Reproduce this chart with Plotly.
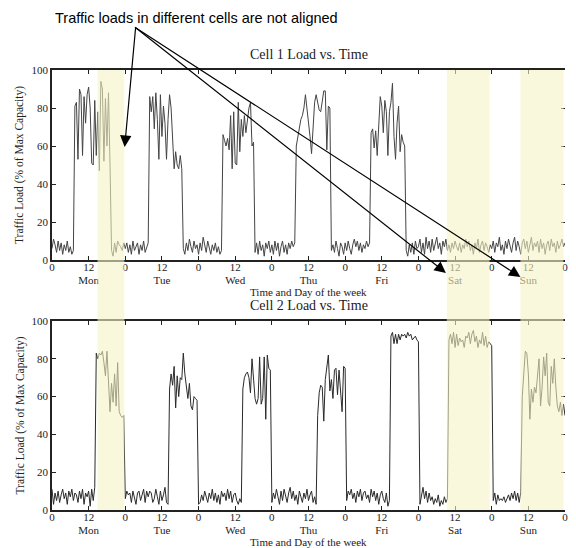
import plotly.graph_objects as go

# ---------------- data ----------------
DAYS = ["Mon", "Tue", "Wed", "Thu", "Fri", "Sat", "Sun"]
DAY_CENTERS = [12, 36, 60, 84, 108, 132, 156]
HOUR_TICKS = [0, 12, 24, 36, 48, 60, 72, 84, 96, 108, 120, 132, 144, 156, 168]
HOUR_TICK_TEXT = ["0", "12", "0", "12", "0", "12", "0", "12", "0", "12", "0", "12", "0", "12", "0"]
Y_TICKS = [0, 20, 40, 60, 80, 100]
STEP_H = 0.5  # sampling step in hours

# Cell 1 load (% of max capacity), one list per day, 30-min samples
cell1_mon = [6, 11, 8, 4, 10, 5, 9, 3, 8, 5, 10, 4, 7, 3, 5,
             81, 83, 53, 90, 87, 55, 86, 72, 87, 91, 80, 51, 50, 84, 55, 78, 47, 94, 90, 52, 85, 60, 88, 50,
             5, 2, 9, 4, 10, 8, 7, 5, 9]
cell1_tue = [6, 9, 4, 8, 3, 10, 5, 7, 9, 3, 8, 5, 10, 4, 6, 9,
             86, 78, 86, 69, 88, 74, 53, 87, 65, 81, 72, 53, 74, 87, 80, 62, 48, 57, 50, 48, 55, 48,
             6, 3, 9, 5, 11, 7, 4, 10, 6, 8]
cell1_wed = [3, 9, 5, 12, 7, 4, 10, 6, 3, 8, 5, 9, 4, 7, 3, 5,
             66, 63, 60, 64, 58, 76, 48, 78, 51, 50, 83, 57, 74, 65, 76, 67, 74, 80, 83, 60, 62,
             4, 9, 3, 10, 5, 8, 2, 9, 6, 10, 4]
cell1_thu = [8, 3, 10, 5, 9, 2, 7, 10, 4, 8, 3, 9, 6, 10, 7, 9,
             60, 64, 70, 74, 76, 80, 87, 80, 74, 65, 56, 72, 83, 87, 82, 79, 78, 85, 89, 89, 58, 81, 80,
             5, 8, 4, 10, 6, 2, 9, 7, 3]
cell1_fri = [9, 5, 10, 6, 3, 8, 11, 7, 10, 5, 9, 4, 8, 6, 10, 7, 9,
             67, 69, 59, 68, 55, 68, 86, 81, 67, 84, 78, 55, 78, 83, 93, 65, 53, 72, 81, 57, 66, 62, 60,
             5, 2, 8, 4, 9, 3, 10, 6]
cell1_sat = [7, 11, 4, 9, 3, 12, 6, 10, 4, 11, 5, 8, 12, 6, 9, 3, 10, 7, 11, 5, 8, 4, 9, 6,
             10, 7, 5, 9, 4, 8, 6, 11, 7, 10, 5, 8, 3, 9, 6, 11, 4, 8, 10, 5, 9, 7, 4, 8]
cell1_sun = [6, 10, 4, 9, 7, 12, 5, 8, 3, 10, 6, 11, 8, 4, 9, 12, 5, 10, 7, 3, 9, 11, 6, 10,
             4, 8, 12, 5, 9, 7, 10, 4, 11, 6, 9, 3, 8, 10, 5, 11, 7, 9, 4, 10, 6, 8, 11, 7]
cell1_end = 9

# Cell 2 load (% of max capacity)
cell2_mon = [11, 3, 9, 5, 10, 4, 8, 11, 6, 9, 3, 10, 7, 11, 5, 9, 8, 4, 10, 6, 11, 3, 9, 7, 10, 2, 11, 5, 12,
             83, 80, 83, 82, 84, 78, 71, 84, 66, 52, 67, 57, 72, 55, 78, 52, 50, 49, 50]
cell2_tue = [6, 10, 8, 9, 4, 10, 6, 3, 9, 10, 5, 8, 11, 4, 10, 7, 10, 9, 4, 6, 11, 7, 3, 10, 5, 8, 12, 4, 3,
             64, 72, 66, 76, 54, 71, 60, 70, 69, 83, 72, 64, 59, 67, 55, 53, 60, 59, 58]
cell2_wed = [3, 4, 8, 5, 10, 7, 4, 9, 6, 11, 5, 9, 4, 8, 3, 10, 7, 9, 5, 11, 6, 10, 4, 8, 9, 5, 3, 6, 4,
             64, 70, 72, 73, 70, 62, 80, 69, 59, 56, 59, 81, 56, 59, 81, 48, 82, 75, 74]
cell2_thu = [4, 9, 6, 11, 7, 3, 10, 5, 11, 8, 4, 9, 12, 6, 10, 5, 8, 3, 10, 7, 4, 9, 6, 11, 5, 8, 10, 4, 7, 3,
             50, 62, 66, 65, 47, 69, 76, 82, 63, 69, 59, 74, 75, 61, 74, 63, 52, 76]
cell2_fri = [75,
             5, 10, 8, 11, 6, 9, 4, 10, 7, 11, 5, 9, 10, 6, 8, 4, 11, 7, 10, 5, 9, 3, 8, 10, 6, 4, 9, 2, 5,
             92, 94, 88, 93, 88, 93, 90, 93, 92, 93, 91, 94, 92, 93, 90, 91, 92, 90]
cell2_sat = [89,
             3, 8, 12, 6, 10, 4, 9, 5, 7, 3, 6, 4, 8, 2, 5, 3, 7, 4, 6,
             90, 93, 88, 94, 86, 93, 87, 91, 89, 90, 86, 92, 91, 94, 88, 93, 95, 89, 92, 86, 90, 88, 94, 87,
             92, 86, 89, 88]
cell2_sun = [87,
             5, 9, 3, 8, 5, 6, 5, 7, 4, 6, 8, 5, 9, 6, 10, 5, 9, 4, 9,
             60, 74, 84, 83, 72, 48, 64, 57, 65, 62, 71, 80, 55, 65, 81, 71, 83, 57, 55, 76, 67, 80, 65, 55,
             52, 57, 50, 56]
cell2_end = 50

# highlighted periods (hours of the week)
HIGHLIGHT_START = [14.9, 129.3, 153.4]
HIGHLIGHT_END = [23.7, 143.3, 167.5]

# annotation with arrows, positions in Cell 1 axis units (hours, load %)
ARROW_TEXT = "Traffic loads in different cells are not aligned"
ARROW_TEXT_POS = (47.2, 127.6)
ARROW_TAIL = (27.4, 123.0)
ARROW_TIP_HOURS = [23.8, 129.0, 153.4]
ARROW_TIP_LOAD = [59.5, -6.8, -8.9]

TITLES = ["Cell 1 Load vs. Time", "Cell 2 Load vs. Time"]
X_TITLE = "Time and Day of the week"
Y_TITLE = "Traffic Load (% of Max Capacity)"


def build_series(days, end_value):
    xs, ys = [], []
    for d, vals in enumerate(days):
        for i, v in enumerate(vals):
            xs.append(24 * d + STEP_H * i)
            ys.append(v)
    xs.append(168)
    ys.append(end_value)
    return xs, ys


c1x, c1y = build_series([cell1_mon, cell1_tue, cell1_wed, cell1_thu, cell1_fri, cell1_sat, cell1_sun], cell1_end)
c2x, c2y = build_series([cell2_mon, cell2_tue, cell2_wed, cell2_thu, cell2_fri, cell2_sat, cell2_sun], cell2_end)

# ---------------- layout geometry ----------------
# page body has an 8px default margin, so the figure is 8px smaller than the window
W, H = 568, 540
ML, MR, MT, MB = 44, 8, 62, 38
PW = W - ML - MR
PH = H - MT - MB
TOP_H = 190
BOT_H = 189
DOM1 = [(PH - TOP_H) / PH, 1.0]
DOM2 = [0.0, BOT_H / PH]

SERIF = "Liberation Serif, Times New Roman, serif"
SANS = "Liberation Sans, Arial, sans-serif"
TXT = "#222"
FS = 11

fig = go.Figure()
fig.add_trace(go.Scatter(x=c1x, y=c1y, mode="lines", line=dict(color="#444444", width=1),
                         xaxis="x", yaxis="y", showlegend=False, hoverinfo="skip"))
fig.add_trace(go.Scatter(x=c2x, y=c2y, mode="lines", line=dict(color="#2a2a2a", width=1),
                         xaxis="x2", yaxis="y2", showlegend=False, hoverinfo="skip"))
# empty traces to activate overlay axes
for xa, ya in [("x3", "y"), ("x4", "y2"), ("x", "y3"), ("x2", "y4")]:
    fig.add_trace(go.Scatter(x=[None], y=[None], xaxis=xa, yaxis=ya, showlegend=False, hoverinfo="skip"))

xcommon = dict(range=[0, 168], tickmode="array", tickvals=HOUR_TICKS, ticktext=HOUR_TICK_TEXT,
               ticks="inside", ticklen=4, tickwidth=1, tickcolor="#222", showline=True, linewidth=1.8,
               linecolor="#222", mirror="ticks", showgrid=False, zeroline=False,
               tickfont=dict(family=SERIF, size=FS, color=TXT), ticklabelstandoff=-4)
ycommon = dict(range=[0, 100], tickmode="array", tickvals=Y_TICKS, ticks="inside", ticklen=4, tickwidth=1,
               tickcolor="#222", showline=True, linewidth=1.8, linecolor="#222", showgrid=False,
               zeroline=False, tickfont=dict(family=SERIF, size=FS, color=TXT))
dayaxis = dict(range=[0, 168], tickmode="array", tickvals=DAY_CENTERS, ticktext=DAYS, ticks="",
               showline=False, showgrid=False, zeroline=False, side="bottom",
               tickfont=dict(family=SERIF, size=FS, color=TXT), ticklabelstandoff=12)
rightaxis = dict(range=[0, 100], tickmode="array", tickvals=Y_TICKS, ticks="inside", ticklen=4,
                 tickwidth=1, tickcolor="#222", showticklabels=False, showline=False, showgrid=False,
                 zeroline=False, side="right")

fig.update_layout(
    width=W, height=H,
    margin=dict(l=ML, r=MR, t=MT, b=MB),
    paper_bgcolor="white", plot_bgcolor="white",
    xaxis=dict(domain=[0, 1], anchor="y", **xcommon),
    yaxis=dict(domain=DOM1, anchor="x", **ycommon),
    xaxis2=dict(domain=[0, 1], anchor="y2", **xcommon),
    yaxis2=dict(domain=DOM2, anchor="x2", **ycommon),
    xaxis3=dict(overlaying="x", anchor="y", **dayaxis),
    xaxis4=dict(overlaying="x2", anchor="y2", **dayaxis),
    yaxis3=dict(overlaying="y", anchor="x", **rightaxis),
    yaxis4=dict(overlaying="y2", anchor="x2", **rightaxis),
)

# highlight bands spanning both panels, semi-transparent on top
for s, e in zip(HIGHLIGHT_START, HIGHLIGHT_END):
    fig.add_shape(type="rect", xref="x", yref="paper", x0=s, x1=e, y0=DOM2[0], y1=DOM1[1],
                  fillcolor="rgb(247,243,197)", opacity=0.6, line=dict(width=0), layer="above")

# panel titles, x titles, y titles
for dom, title in zip([DOM1, DOM2], TITLES):
    fig.add_annotation(text=title, xref="paper", yref="paper", x=0.5, y=dom[1], yanchor="middle",
                       yshift=15.5, showarrow=False, font=dict(family=SERIF, size=14, color=TXT))
    fig.add_annotation(text=X_TITLE, xref="paper", yref="paper", x=0.5, y=dom[0], yanchor="middle",
                       yshift=-31.5, showarrow=False, font=dict(family=SERIF, size=FS, color=TXT))
    fig.add_annotation(text=Y_TITLE, xref="paper", yref="paper", x=0, y=(dom[0] + dom[1]) / 2,
                       xanchor="center", yanchor="middle", xshift=-32, textangle=-90, showarrow=False,
                       font=dict(family=SERIF, size=11.5, color=TXT))


# arrow annotation (converted from Cell 1 axis units to paper / pixels)
def to_paper(h, v):
    return h / 168.0, DOM1[0] + (v / 100.0) * (DOM1[1] - DOM1[0])


px_per_h = PW / 168.0
px_per_v = TOP_H / 100.0
tx, ty = to_paper(*ARROW_TEXT_POS)
fig.add_annotation(text=ARROW_TEXT, xref="paper", yref="paper", x=tx, y=ty, xanchor="center",
                   yanchor="middle", showarrow=False, font=dict(family=SANS, size=14.5, color="black"))
for th, tv in zip(ARROW_TIP_HOURS, ARROW_TIP_LOAD):
    px, py = to_paper(th, tv)
    fig.add_annotation(text="", xref="paper", yref="paper", x=px, y=py, showarrow=True,
                       ax=(ARROW_TAIL[0] - th) * px_per_h, ay=-(ARROW_TAIL[1] - tv) * px_per_v,
                       arrowhead=2, arrowsize=1.9, arrowwidth=1.2, arrowcolor="black", standoff=0)

fig.write_html("out.html")
